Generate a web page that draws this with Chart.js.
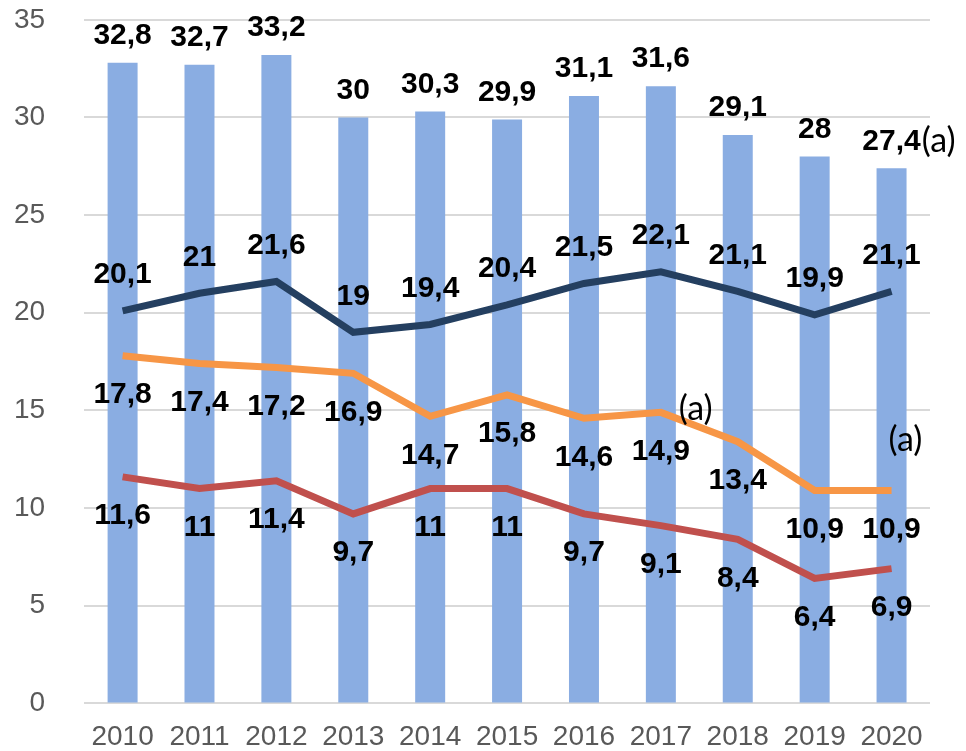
<!DOCTYPE html>
<html>
<head>
<meta charset="utf-8">
<script src="https://cdn.jsdelivr.net/npm/chart.js@4/dist/chart.umd.min.js"></script>
<style>
  html, body { margin: 0; padding: 0; background: #fff; overflow: hidden; }
  #wrap { width: 966px; height: 751px; }
  canvas { display: block; }
</style>
</head>
<body>
<div id="wrap"><canvas id="grafico"></canvas></div>
<script>
const anos = ['2010', '2011', '2012', '2013', '2014', '2015', '2016', '2017', '2018', '2019', '2020'];
const total = [32.8, 32.7, 33.2, 30, 30.3, 29.9, 31.1, 31.6, 29.1, 28, 27.4];
const serieAzul = [20.1, 21, 21.6, 19, 19.4, 20.4, 21.5, 22.1, 21.1, 19.9, 21.1];
const serieLaranja = [17.8, 17.4, 17.2, 16.9, 14.7, 15.8, 14.6, 14.9, 13.4, 10.9, 10.9];
const serieVermelha = [11.6, 11, 11.4, 9.7, 11, 11, 9.7, 9.1, 8.4, 6.4, 6.9];
const ticksY = [0, 5, 10, 15, 20, 25, 30, 35];

// notas "(a)": dataset e indice do ponto
const notas = [
  { ds: 0, i: 10, tipo: 'depois' },
  { ds: 2, i: 7, dx: 18, dy: -3 },
  { ds: 2, i: 10, dx: -3, dy: -50 }
];

const fonteRotulo = 'bold 30px "Liberation Sans", Arial, sans-serif';
const fonteNota = '34px Lato, "Open Sans", sans-serif';

function fmt(v) {
  return String(v).replace('.', ',');
}

const rotulos = {
  id: 'rotulos',
  afterDatasetsDraw(chart) {
    const ctx = chart.ctx;
    ctx.save();
    ctx.fillStyle = '#000';
    ctx.font = fonteRotulo;
    ctx.textAlign = 'center';
    ctx.textBaseline = 'middle';
    chart.data.datasets.forEach(function (ds, d) {
      const meta = chart.getDatasetMeta(d);
      meta.data.forEach(function (el, i) {
        ctx.fillText(fmt(ds.data[i]), el.x, el.y + ds.rotuloDy);
      });
    });
    ctx.textAlign = 'left';
    notas.forEach(function (n) {
      const el = chart.getDatasetMeta(n.ds).data[n.i];
      const ds = chart.data.datasets[n.ds];
      if (n.tipo === 'depois') {
        ctx.font = fonteRotulo;
        const w = ctx.measureText(fmt(ds.data[n.i])).width;
        ctx.font = fonteNota;
        ctx.fillText('(a)', el.x + w / 2 + 1, el.y + ds.rotuloDy);
      } else {
        ctx.font = fonteNota;
        ctx.fillText('(a)', el.x + n.dx, el.y + n.dy);
      }
    });
    ctx.restore();
  }
};

const linha = function (dados, cor, dy, ordem) {
  return {
    type: 'line',
    data: dados,
    borderColor: cor,
    backgroundColor: cor,
    borderWidth: 7,
    pointRadius: 0,
    tension: 0,
    rotuloDy: dy,
    order: ordem
  };
};

new Chart(document.getElementById('grafico'), {
  type: 'bar',
  data: {
    labels: anos,
    datasets: [
      {
        type: 'bar',
        data: total,
        backgroundColor: '#8aade2',
        categoryPercentage: 1,
        barPercentage: 0.39,
        rotuloDy: -27,
        order: 4
      },
      linha(serieAzul, '#243f60', -36, 1),
      linha(serieLaranja, '#f79646', 39, 2),
      linha(serieVermelha, '#c0504d', 39, 3)
    ]
  },
  options: {
    responsive: true,
    maintainAspectRatio: false,
    animation: false,
    layout: { padding: { left: 11, right: 36, top: 0, bottom: 0 } },
    plugins: {
      legend: { display: false },
      tooltip: { enabled: false }
    },
    scales: {
      x: {
        grid: { display: true, drawOnChartArea: false, tickLength: 20, tickColor: 'rgba(0,0,0,0)' },
        border: { display: false },
        ticks: {
          color: '#595959',
          font: { family: '"Liberation Sans", Arial, sans-serif', size: 28 },
          padding: -3,
          maxRotation: 0
        }
      },
      y: {
        min: 0,
        max: 35,
        afterBuildTicks: function (axis) {
          axis.ticks = ticksY.map(function (v) { return { value: v }; });
        },
        grid: { color: '#d9d9d9', lineWidth: 2, tickLength: 36, tickColor: 'rgba(0,0,0,0)' },
        border: { display: false },
        ticks: {
          color: '#595959',
          font: { family: '"Liberation Sans", Arial, sans-serif', size: 28 },
          padding: 3
        }
      }
    }
  },
  plugins: [rotulos]
});
</script>
</body>
</html>
